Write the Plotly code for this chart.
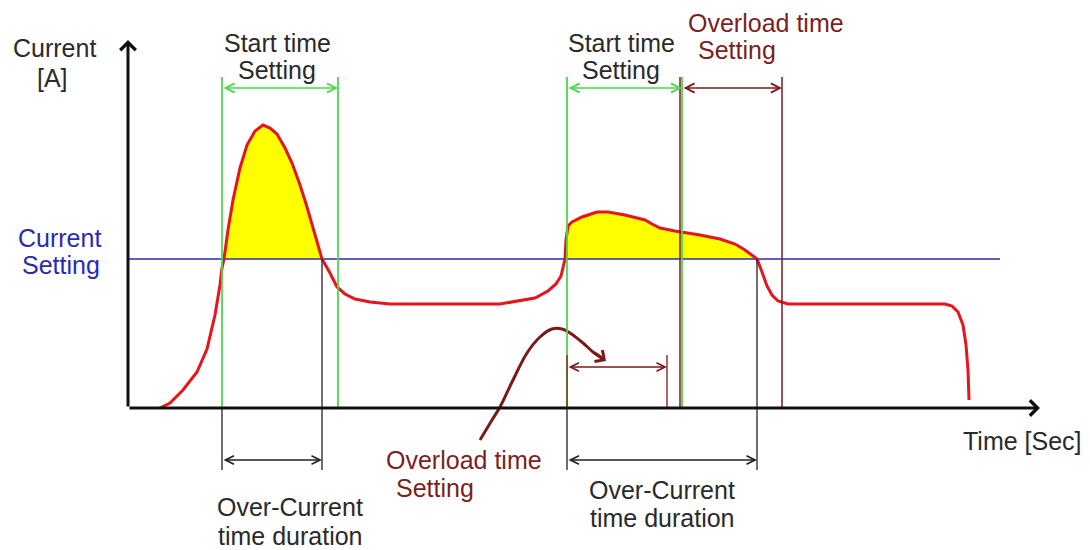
import numpy as np
import plotly.graph_objects as go

# ---- data (time / current in drawing units; origin at the axes crossing) ----
curve_t = [32, 42, 55, 69, 79, 87, 92, 94, 96, 100, 105, 112, 119, 127, 135, 142, 149, 157,
           164, 172, 179, 187, 194, 202, 209, 217, 227, 242, 262, 372, 392, 407, 420, 428,
           433, 435, 437, 438, 440, 444, 454, 469, 480, 497, 517, 524, 532, 547, 572, 592,
           607, 617, 624, 629, 634, 639, 644, 650, 660, 817, 824, 830, 835, 838, 840, 841]
curve_i = [0, 5, 18, 36, 59, 93, 123, 140, 149, 178, 208, 240, 263, 277, 283, 280, 274, 260,
           245, 223, 201, 173, 149, 135, 121, 114, 109, 106, 104, 104, 107, 110, 117, 124,
           132, 140, 149, 168, 182, 186, 191, 196, 196, 193, 188, 184, 180, 177, 173, 169,
           164, 158, 153, 149, 136, 122, 113, 107, 104, 104, 102, 96, 83, 63, 38, 8]

current_setting = 149
setting_line_t = [0, 872]

x_axis_end = 912
y_axis_end = 368

start_windows = [(94, 210), (439, 554)]      # "Start time Setting"
overload_window = (554, 654)                  # "Overload time Setting" (top)
overcurrent_windows = [(94, 194), (439, 629)] # "Over-Current time duration"
small_overload = (439, 539)                   # small overload arrow

top_level = 331
top_arrow_level = 320
bottom_arrow_level = -52
bottom_tick_level = -62
small_arrow_level = 41
small_tick_top = 53

curved_arrow_t = [352, 364, 372, 385, 399, 412, 424, 434, 442, 455, 465, 474]
curved_arrow_i = [-32, -12, 1, 28, 55, 71, 79, 79, 75, 65, 56, 50]

labels = [
    # text, t, i, colour
    ("Current", -74, 360, "#2a2a2a"),
    ("[A]", -76, 330, "#2a2a2a"),
    ("Start time", 149, 365, "#2a2a2a"),
    ("Setting", 149, 338, "#2a2a2a"),
    ("Start time", 493, 365, "#2a2a2a"),
    ("Setting", 493, 338, "#2a2a2a"),
    ("Overload time", 638, 385, "#7b1f1f"),
    ("Setting", 609, 358, "#7b1f1f"),
    ("Current", -69, 170, "#2b2bb0"),
    ("Setting", -67, 143, "#2b2bb0"),
    ("Overload time", 336, -52, "#7b1f1f"),
    ("Setting", 307, -80, "#7b1f1f"),
    ("Over-Current", 162, -99, "#2a2a2a"),
    ("time duration", 162, -128, "#2a2a2a"),
    ("Over-Current", 534, -82, "#2a2a2a"),
    ("time duration", 534, -110, "#2a2a2a"),
    ("Time [Sec]", 894, -33, "#2a2a2a"),
]

# ---- colours ----
RED = "#e8141c"
YELLOW = "#ffff00"
BLUE = "#2a2ab8"
GREEN = "#4cd94c"
DARKRED = "#7b1a1a"
BLACK = "#111111"

fig = go.Figure()

t = np.array(curve_t, dtype=float)
cur = np.array(curve_i, dtype=float)
clipped = np.maximum(cur, current_setting)

# yellow fill where current exceeds setting
fig.add_trace(go.Scatter(x=t, y=np.full_like(t, current_setting), mode="lines",
                         line=dict(width=0), hoverinfo="skip", showlegend=False))
fig.add_trace(go.Scatter(x=t, y=clipped, mode="lines", fill="tonexty",
                         fillcolor=YELLOW, line=dict(width=0), hoverinfo="skip",
                         showlegend=False))
# current setting line
fig.add_trace(go.Scatter(x=setting_line_t, y=[current_setting] * 2, mode="lines",
                         line=dict(color=BLUE, width=1.5), showlegend=False))
# current curve
fig.add_trace(go.Scatter(x=t, y=cur, mode="lines", line=dict(color=RED, width=3),
                         showlegend=False))
# curved overload arrow
fig.add_trace(go.Scatter(x=curved_arrow_t, y=curved_arrow_i, mode="lines",
                         line=dict(color=DARKRED, width=3, shape="spline"),
                         showlegend=False))

shapes = []


def vline(x, y0, y1, color, width):
    shapes.append(dict(type="line", xref="x", yref="y", x0=x, x1=x, y0=y0, y1=y1,
                       line=dict(color=color, width=width), layer="above"))


# start time windows (green)
for a, b in start_windows:
    vline(a, 0, top_level, GREEN, 1.8)
    vline(b, 0, top_level, GREEN, 1.8)
# overload window (dark red)
vline(overload_window[0] - 2, 0, top_level, DARKRED, 1.5)
vline(overload_window[1], 0, top_level, DARKRED, 1.5)
# over-current durations (black)
for a, b in overcurrent_windows:
    vline(a, 0, bottom_tick_level, "#222222", 1.3)
    vline(b, current_setting, bottom_tick_level, "#222222", 1.3)
# small overload arrow ticks
vline(small_overload[0], small_tick_top, 0, DARKRED, 1.3)
vline(small_overload[1], small_tick_top, 0, DARKRED, 1.3)

annotations = []


def arrow(x0, y0, x1, y1, color, width, head, size, both=False):
    annotations.append(dict(x=x1, y=y1, ax=x0, ay=y0, xref="x", yref="y",
                            axref="x", ayref="y", text="", showarrow=True,
                            arrowhead=head, startarrowhead=head, arrowsize=size,
                            startarrowsize=size, arrowwidth=width, arrowcolor=color,
                            arrowside="end+start" if both else "end",
                            standoff=0, startstandoff=0))


# axes with arrow tips
arrow(0, 0, x_axis_end, 0, BLACK, 3, 4, 1.0)
arrow(0, 0, 0, y_axis_end, BLACK, 3, 4, 1.0)

for a, b in start_windows:
    arrow(a, top_arrow_level, b, top_arrow_level, GREEN, 1.5, 5, 1.2, both=True)
arrow(overload_window[0], top_arrow_level, overload_window[1], top_arrow_level,
      DARKRED, 1.5, 5, 1.2, both=True)
for a, b in overcurrent_windows:
    arrow(a, bottom_arrow_level, b, bottom_arrow_level, "#222222", 1.3, 5, 1.3, both=True)
arrow(small_overload[0], small_arrow_level, small_overload[1], small_arrow_level,
      DARKRED, 1.3, 5, 1.3, both=True)
# head of curved arrow
arrow(curved_arrow_t[-2], curved_arrow_i[-2], curved_arrow_t[-1] + 4,
      curved_arrow_i[-1] - 3, DARKRED, 3, 4, 0.9)

for txt, tx, ty, col in labels:
    annotations.append(dict(x=tx, y=ty, xref="x", yref="y", text=txt, showarrow=False,
                            xanchor="center", yanchor="middle",
                            font=dict(family="Liberation Sans, Arial, sans-serif",
                                      size=25, color=col)))

# the page body has an 8px margin, so the figure is 8px smaller and the
# axis ranges start 8 units later to keep 1 unit == 1 pixel at the same spot
fig.update_layout(
    width=1082, height=542,
    margin=dict(l=0, r=0, t=0, b=0, pad=0),
    paper_bgcolor="white", plot_bgcolor="white",
    xaxis=dict(range=[-120, 962], visible=False, fixedrange=True),
    yaxis=dict(range=[-142, 400], visible=False, fixedrange=True),
    shapes=shapes, annotations=annotations, showlegend=False,
)

fig.write_html("out.html")
